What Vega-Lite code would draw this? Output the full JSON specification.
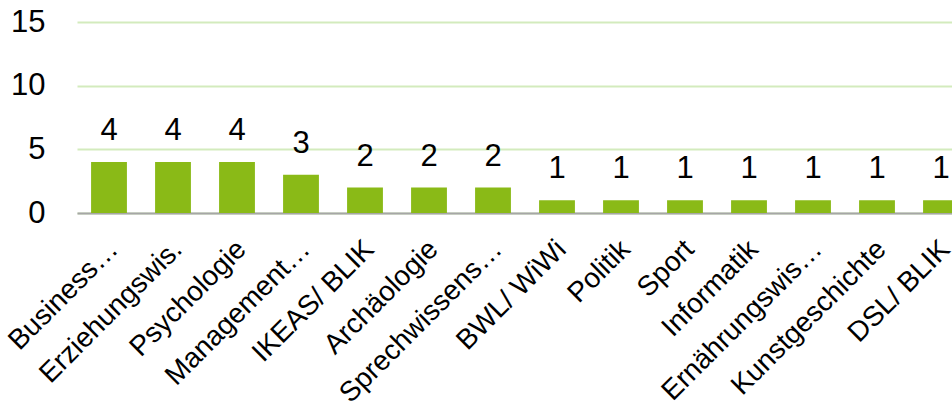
{
  "$schema": "https://vega.github.io/schema/vega-lite/v6.json",
  "autosize": {"type": "none"},
  "padding": {"left": 77, "top": 22, "right": 0, "bottom": 188},
  "width": 896,
  "height": 191,
  "background": "white",
  "config": {"view": {"stroke": null}, "font": "Liberation Sans"},
  "data": {"values": [
    {"fach": "Business…", "n": 4},
    {"fach": "Erziehungswis.", "n": 4},
    {"fach": "Psychologie", "n": 4},
    {"fach": "Management…", "n": 3},
    {"fach": "IKEAS/ BLIK", "n": 2},
    {"fach": "Archäologie", "n": 2},
    {"fach": "Sprechwissens…", "n": 2},
    {"fach": "BWL/ WiWi", "n": 1},
    {"fach": "Politik", "n": 1},
    {"fach": "Sport", "n": 1},
    {"fach": "Informatik", "n": 1},
    {"fach": "Ernährungswis…", "n": 1},
    {"fach": "Kunstgeschichte", "n": 1},
    {"fach": "DSL/ BLIK", "n": 1}
  ]},
  "encoding": {
    "x": {"field": "fach", "type": "nominal", "sort": null,
      "scale": {"paddingInner": 0.44, "paddingOuter": 0.22},
      "axis": {"title": null, "labelAngle": -45, "labelFontSize": 28, "labelColor": "#000000",
        "ticks": false, "domainColor": "#a6a6a6", "domainWidth": 2, "labelPadding": 22, "labelOffset": -5, "labelLimit": 400}},
    "y": {"field": "n", "type": "quantitative",
      "scale": {"domain": [0, 15]},
      "axis": {"title": null, "values": [0, 5, 10, 15], "labelFontSize": 31, "labelColor": "#000000",
        "ticks": false, "domain": false, "gridColor": "#d3ebbd", "gridWidth": 2, "labelPadding": 32}}
  },
  "layer": [
    {"mark": {"type": "bar", "color": "#8aba17"}},
    {"mark": {"type": "text", "baseline": "bottom", "dy": -15, "fontSize": 31, "color": "#000000"},
     "encoding": {"text": {"field": "n", "type": "quantitative"}}}
  ]
}
